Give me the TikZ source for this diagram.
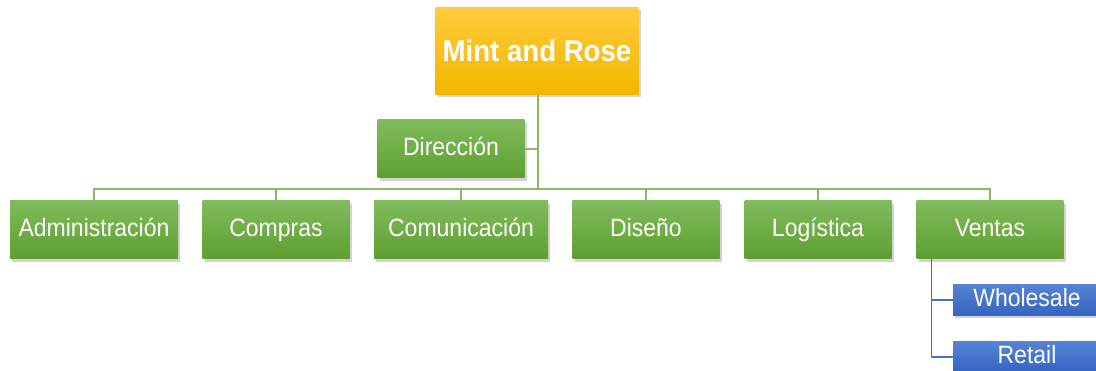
\documentclass[tikz,border=0pt]{standalone}
\usepackage{fontspec}
\setmainfont{Liberation Sans}
\newfontfamily\narrowsans{Liberation Sans}[FakeStretch=0.92]
\usetikzlibrary{shadows}

\definecolor{mintgreen}{HTML}{6AAA3F}
\definecolor{greentop}{HTML}{80BC5C}
\definecolor{greenbot}{HTML}{5E9E30}
\definecolor{goldtop}{HTML}{FFCB3C}
\definecolor{goldbot}{HTML}{F2B700}
\definecolor{bluetop}{HTML}{5584D4}
\definecolor{bluebot}{HTML}{3563C2}
\definecolor{blueline}{HTML}{4472C4}

\begin{document}
\begin{tikzpicture}[x=1pt, y=-1pt,
    greenbox/.style={top color=greentop, bottom color=greenbot, text=white,
        font=\narrowsans\fontsize{25}{27}\selectfont, minimum height=58pt, inner sep=0pt,
        text height=18pt, text depth=5pt,
        drop shadow={shadow xshift=2pt, shadow yshift=-3pt, opacity=0.35}},
    bluebox/.style={top color=bluetop, bottom color=bluebot, text=white,
        font=\narrowsans\fontsize{25}{27}\selectfont, minimum height=31pt, minimum width=160pt, inner sep=0pt,
        text height=18pt, text depth=5pt,
        drop shadow={shadow xshift=2pt, shadow yshift=-3pt, opacity=0.35}},
    greenline/.style={draw=mintgreen!80, line width=1.3pt},
    bluewire/.style={draw=blueline, line width=1.3pt}]
    \useasboundingbox (0,0) rectangle (1096,371);
    \clip (0,0) rectangle (1096,371);

    % Top of the chart
    \node[top color=goldtop, bottom color=goldbot, text=white, font=\narrowsans\bfseries\fontsize{30}{32}\selectfont,
        minimum width=203pt, minimum height=87pt, inner sep=0pt,
        drop shadow={shadow xshift=2pt, shadow yshift=-3pt, opacity=0.35}] (mint) at (537,51) {Mint and Rose};
    \node[greenbox, minimum width=147pt] (dir) at (451,149) {Dirección};

    % Departments
    \node[greenbox, minimum width=168pt] (adm) at (94,230) {Administración};
    \node[greenbox, minimum width=147pt] (com) at (276,230) {Compras};
    \node[greenbox, minimum width=174pt] (cmu) at (461,230) {Comunicación};
    \node[greenbox, minimum width=147pt] (dis) at (646,230) {Diseño};
    \node[greenbox, minimum width=147pt] (log) at (818,230) {Logística};
    \node[greenbox, minimum width=147pt] (ven) at (990,230) {Ventas};

    % Sales channels
    \node[bluebox] (whole) at (1033,300) {\hspace*{-12pt}Wholesale};
    \node[bluebox] (ret) at (1033,357) {\hspace*{-12pt}Retail};

    % Green connectors
    \coordinate (bus) at (538,189);
    \draw[greenline] (mint.south -| bus) -- (bus);
    \draw[greenline] (dir.east) -- (dir.east -| bus);
    \draw[greenline] (adm.north) |- (bus) -| (ven.north);
    \draw[greenline] (com.north) -- (com.north |- bus);
    \draw[greenline] (cmu.north) -- (cmu.north |- bus);
    \draw[greenline] (dis.north) -- (dis.north |- bus);
    \draw[greenline] (log.north) -- (log.north |- bus);

    % Blue connectors
    \coordinate (vx) at ([xshift=15pt]ven.south west);
    \draw[bluewire] (vx) |- (whole.west);
    \draw[bluewire] (vx) |- (ret.west);
\end{tikzpicture}
\end{document}
